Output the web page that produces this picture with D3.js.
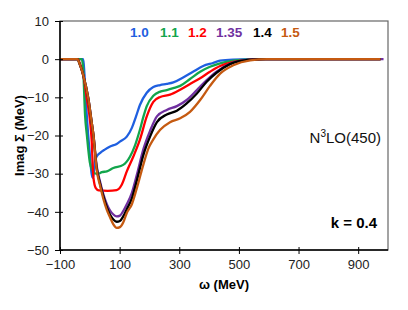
<!DOCTYPE html>
<html>
<head>
<meta charset="utf-8">
<script src="https://cdn.jsdelivr.net/npm/d3@7"></script>
<style>
  body { margin: 0; background: #fff; }
  svg { display: block; font-family: "Liberation Sans", Arial, sans-serif; }
</style>
</head>
<body>
<div id="chart"></div>
<script>
// densities (legend labels) and their colours
const densities = ["1.0", "1.1", "1.2", "1.35", "1.4", "1.5"];
const colors = ["#1f5fe0", "#12a54c", "#ff0000", "#7030a0", "#000000", "#c55a11"];

// [omega (MeV), Imag Sigma (MeV)]
const curve10 = [[-100,0],[-22,0],[-18,-4],[-10,-15],[0,-25],[6,-30],[10,-31.1],[13,-30],[17,-27],[23,-25.5],[34,-24.6],[50,-23.7],[68,-22.9],[90,-22.2],[101,-21.6],[124,-20.3],[141,-18],[155,-15],[168,-12],[191,-8.8],[213,-7.3],[236,-6.8],[258,-6.5],[280,-6.1],[313,-4.8],[346,-3.3],[380,-1.8],[413,-1],[437,-0.4],[480,-0.1],[540,0],[975,0]];
const curve11 = [[-100,0],[-27,0],[-22,-3],[-16,-14.6],[-10,-19.8],[0,-27],[10,-29.3],[20,-30],[30,-30],[40,-29.6],[57,-29.4],[79,-28.5],[112,-27.7],[135,-25.5],[152,-22.5],[168,-18.5],[180,-15],[191,-12.3],[213,-9.6],[236,-8.5],[258,-8.1],[280,-7.6],[303,-7],[336,-5.2],[370,-3.3],[403,-2],[437,-1.1],[481,-0.4],[530,-0.1],[580,0],[975,0]];
const curve12 = [[-100,0],[-40,0],[-32,-1.5],[-22,-4.2],[-10,-10.3],[1,-16.4],[6,-21],[12,-31],[20,-33.8],[30,-34.4],[60,-34.5],[90,-34.3],[107,-32.9],[124,-29.4],[146,-25.5],[168,-21.1],[191,-15],[213,-11.2],[236,-9.9],[269,-9.3],[303,-8],[336,-6.5],[370,-5],[403,-3.3],[437,-1.8],[481,-0.7],[538,-0.1],[580,0],[975,0]];
const curve135 = [[-100,0],[-42,0],[-33,-1.5],[-22,-4.2],[-5,-10.3],[6,-16.4],[12,-19.8],[23,-28],[34,-32],[45,-35.3],[57,-38],[68,-39.7],[79,-40.7],[90,-41.2],[101,-41],[112,-39.8],[124,-38],[141,-35],[157,-30.5],[180,-23.5],[202,-18.8],[225,-15],[258,-13.3],[292,-12.3],[325,-10.7],[359,-8.1],[392,-5.5],[426,-3.2],[470,-1.2],[530,-0.2],[590,0],[985,0]];
const curve14 = [[-100,0],[-42,0],[-33,-1.5],[-22,-4.2],[-5,-10.3],[6,-16.4],[12,-19.8],[23,-28.5],[34,-32.5],[45,-35.8],[57,-38.8],[68,-40.8],[79,-42],[90,-42.6],[101,-42.4],[112,-41.2],[124,-39.3],[141,-36.5],[157,-32],[180,-25],[202,-20.3],[225,-16.5],[258,-14.5],[292,-13.5],[325,-11.6],[359,-9],[392,-5.9],[426,-3.5],[470,-1.3],[530,-0.2],[590,0],[975,0]];
const curve15 = [[-100,0],[-42,0],[-33,-1.5],[-22,-4.2],[-5,-10.3],[6,-16.4],[12,-19.8],[23,-29],[34,-33],[45,-36.5],[57,-39.5],[68,-41.5],[79,-43.3],[90,-44.2],[101,-44],[112,-42.8],[124,-40.3],[141,-38],[157,-34],[180,-27.5],[196,-23.5],[213,-21],[236,-18.5],[269,-16.5],[303,-15.5],[336,-13.8],[370,-10.7],[403,-7],[437,-3.8],[481,-1.6],[538,-0.3],[595,0],[975,0]];
const curves = [curve10, curve11, curve12, curve135, curve14, curve15];

const xTicks = [-100, 100, 300, 500, 700, 900];
const yTicks = [-50, -40, -30, -20, -10, 0, 10];

function drawChart() {
    const width = 408, height = 310;
    const margin = { top: 21, right: 20, bottom: 60, left: 60 };

    const svg = d3.select("#chart").append("svg")
        .attr("width", width)
        .attr("height", height);

    const x = d3.scaleLinear().domain([-100, 1000])
        .range([margin.left, width - margin.right]);
    const y = d3.scaleLinear().domain([-50, 10])
        .range([height - margin.bottom, margin.top]);

    // box: top and right in grey
    svg.append("rect")
        .attr("x", x(-100)).attr("y", y(10))
        .attr("width", x(1000) - x(-100)).attr("height", y(-50) - y(10))
        .attr("fill", "none").attr("stroke", "#666").attr("stroke-width", 1.2);

    // curves (monotone so nothing pokes above zero)
    const line = d3.line()
        .x(d => x(d[0]))
        .y(d => y(d[1]))
        .curve(d3.curveMonotoneX);

    svg.append("g").selectAll("path")
        .data(curves)
        .join("path")
        .attr("d", line)
        .attr("fill", "none")
        .attr("stroke", (d, i) => colors[i])
        .attr("stroke-width", 2.3)
        .attr("stroke-linejoin", "round");

    // axes
    const xAxis = svg.append("g")
        .attr("transform", `translate(0,${y(-50)})`)
        .call(d3.axisBottom(x).tickValues(xTicks).tickSize(4).tickPadding(6));
    xAxis.selectAll(".tick line").attr("y1", -3).attr("stroke", "#000");

    const yAxis = svg.append("g")
        .attr("transform", `translate(${x(-100)},0)`)
        .call(d3.axisLeft(y).tickValues(yTicks).tickSize(5).tickPadding(6));
    yAxis.selectAll(".tick line").attr("x1", 3).attr("stroke", "#000");

    [xAxis, yAxis].forEach(a => {
        a.select(".domain").attr("stroke", "#000").attr("stroke-width", 1.5);
        a.selectAll(".tick text")
            .attr("font-size", 13)
            .attr("font-family", "'Liberation Sans', Arial, sans-serif")
            .attr("fill", "#222");
    });
    xAxis.select(".domain").attr("d", `M${x(-100)},0H${x(1000)}`);
    yAxis.select(".domain").attr("d", `M0,${y(10)}V${y(-50)}`);

    // axis titles
    svg.append("text")
        .attr("x", (x(-100) + x(1000)) / 2)
        .attr("y", 289)
        .attr("text-anchor", "middle")
        .attr("font-size", 13).attr("font-weight", "bold")
        .text("ω (MeV)");

    svg.append("text")
        .attr("transform", `translate(24,${(y(10) + y(-50)) / 2}) rotate(-90)`)
        .attr("text-anchor", "middle")
        .attr("font-size", 13).attr("font-weight", "bold")
        .text("Imag Σ (MeV)");

    // legend labels
    const legendX = [130, 160, 188, 216, 253, 281];
    svg.append("g").selectAll("text")
        .data(densities)
        .join("text")
        .attr("x", (d, i) => legendX[i])
        .attr("y", 37)
        .attr("font-size", 13.5).attr("font-weight", "bold")
        .attr("fill", (d, i) => colors[i])
        .text(d => d);

    // annotations
    const n3lo = svg.append("text")
        .attr("x", 381).attr("y", 143)
        .attr("text-anchor", "end")
        .attr("font-size", 15)
        .attr("fill", "#111");
    n3lo.append("tspan").text("N");
    n3lo.append("tspan").attr("font-size", 10).attr("dy", -6).text("3");
    n3lo.append("tspan").attr("dy", 6).text("LO(450)");

    svg.append("text")
        .attr("x", 377).attr("y", 228)
        .attr("text-anchor", "end")
        .attr("font-size", 15).attr("font-weight", "bold")
        .text("k = 0.4");
}

document.addEventListener("DOMContentLoaded", drawChart);
</script>
</body>
</html>
